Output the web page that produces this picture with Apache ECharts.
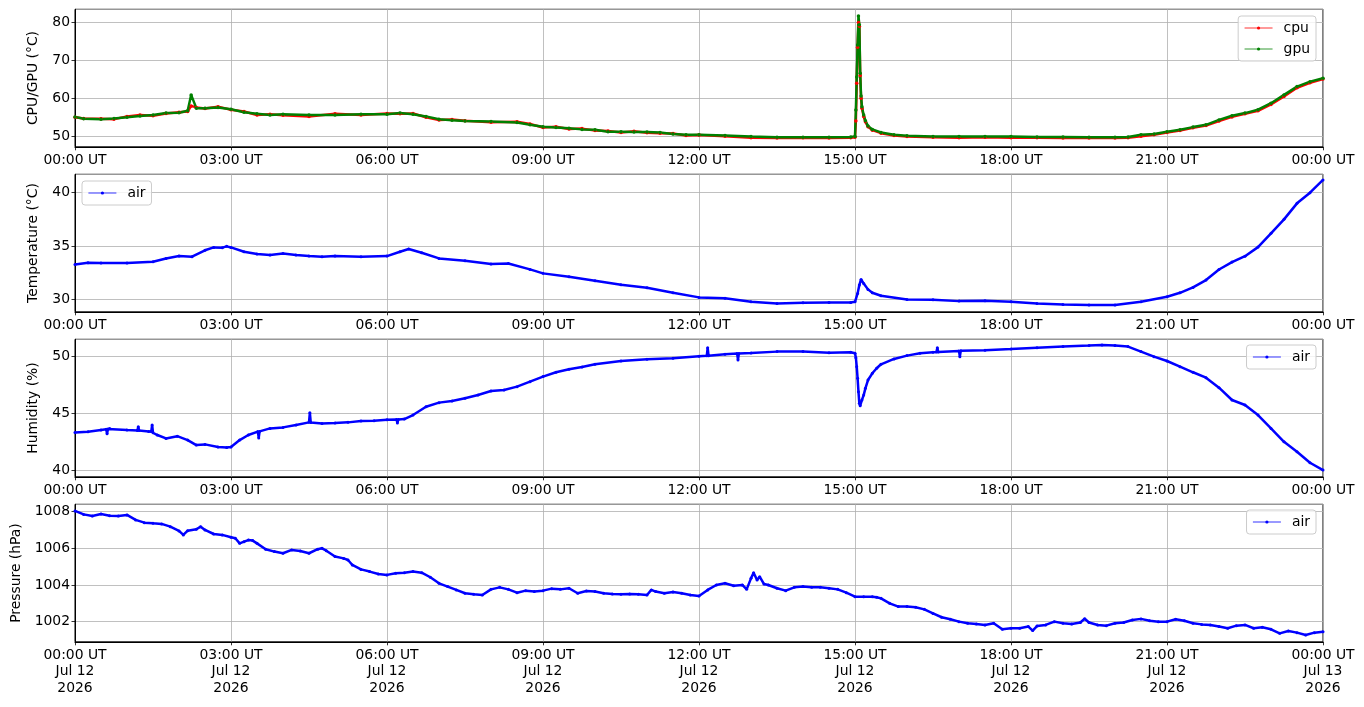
<!DOCTYPE html>
<html>
<head>
<meta charset="utf-8">
<script src="https://cdn.jsdelivr.net/npm/echarts@6/dist/echarts.min.js"></script>
<style>html,body{margin:0;padding:0;background:#fff}#c{width:1364px;height:707px}</style>
</head>
<body>
<div id="c"></div>
<script>
// ---- tick labels ----
const hourLabels = ['00:00 UT','03:00 UT','06:00 UT','09:00 UT','12:00 UT','15:00 UT','18:00 UT','21:00 UT','00:00 UT'];
const dateLabels = ['Jul 12','Jul 12','Jul 12','Jul 12','Jul 12','Jul 12','Jul 12','Jul 12','Jul 13'];
const yearLabels = ['2026','2026','2026','2026','2026','2026','2026','2026','2026'];

// ---- CPU / GPU (minutes of day, °C) ----
const tChip = [0,10,30,45,60,75,90,105,120,130,134,140,150,165,180,195,210,225,240,270,300,330,360,375,390,405,420,435,450,480,510,525,540,555,570,585,600,615,630,645,660,675,690,705,720,750,780,810,840,870,895,900,901,902,903,904,905,906,907,908,910,912,915,920,930,945,960,990,1020,1050,1080,1110,1140,1170,1200,1215,1230,1245,1260,1275,1290,1305,1320,1335,1350,1365,1380,1395,1410,1425,1440];
const cpu = [55.0,54.7,54.6,54.5,55.2, 55.6,55.4,56.0,56.3,56.5, 58.0,57.6,57.3,57.8,57.0, 56.5,55.6,55.8,55.5,55.2, 55.9,55.6,56.0,55.9,56.0, 55.0,54.3,54.4,54.1,53.7, 53.8,53.2,52.3,52.5,51.9, 52.0,51.5,51.4,51.0,51.3, 50.9,50.8,50.7,50.2,50.3, 50.0,49.6,49.5,49.6,49.5, 49.6,49.7,54.0,64.0,73.5, 80.0,79.0,66.0,60.0,57.4, 55.2,53.8,52.5,51.6,50.8, 50.2,49.9,49.7,49.6,49.7, 49.6,49.6,49.5,49.5,49.5, 49.6,50.0,50.4,51.0,51.5, 52.2,52.8,54.0,55.1,55.9, 56.7,58.4,60.5,62.8,64.1, 65.1];
const gpu = [55.1,54.6,54.5,54.7,55.0, 55.3,55.6,56.1,56.2,56.7, 60.9,57.4,57.4,57.6,57.1, 56.3,55.9,55.6,55.8,55.6, 55.6,55.8,55.8,56.1,55.8, 55.2,54.5,54.2,54.0,53.9, 53.6,53.0,52.5,52.3,52.1, 51.8,51.7,51.2,51.2,51.1, 51.1,51.0,50.6,50.4,50.4, 50.2,49.9,49.7,49.7,49.7, 49.8,49.9,56.9,65.6,74.1, 81.7,79.4,66.6,60.6,57.8, 55.6,54.1,52.7,51.8,51.0, 50.4,50.1,49.9,49.9,49.9, 49.9,49.8,49.8,49.7,49.7, 49.8,50.4,50.6,51.2,51.7, 52.4,53.0,54.3,55.4,56.1, 57.0,58.7,60.9,63.1,64.4, 65.3];

// ---- air temperature ----
const tTemp = [0,15,30,60,90,105,120,135,150,160,170,175,180,195,210,225,240,255,270,285,300,330,360,375,385,400,420,450,480,500,525,540,570,600,630,660,690,720,750,780,810,840,870,895,900,903,905,907,910,915,920,930,960,990,1020,1050,1080,1110,1140,1170,1200,1230,1260,1275,1290,1305,1320,1335,1350,1365,1380,1395,1410,1425,1440];
const airTemp = [33.28,33.44,33.40,33.40,33.53,33.84,34.06,34.00,34.60,34.87,34.85,34.97,34.87,34.47,34.25,34.16,34.30,34.16,34.06,34.00,34.06,34.00,34.06,34.47,34.72,34.37,33.84,33.62,33.31,33.37,32.81,32.44,32.12,31.75,31.37,31.10,30.62,30.19,30.10,29.78,29.62,29.69,29.72,29.72,29.78,30.56,31.34,31.87,31.50,30.94,30.62,30.34,30.00,29.97,29.84,29.87,29.78,29.62,29.53,29.47,29.47,29.78,30.25,30.62,31.12,31.81,32.80,33.50,34.05,34.90,36.19,37.50,39.00,40.00,41.19];

// ---- air humidity ----
const tHum = [0,15,30,36,37,38,40,60,72,73,74,85,88,89,90,95,105,118,130,140,150,165,175,180,190,200,211,212,213,225,240,255,270,271,272,285,300,315,330,345,360,371,372,373,380,390,405,420,435,450,465,480,495,510,525,540,555,570,585,600,630,660,690,720,729,730,731,750,764,765,766,780,810,840,870,895,900,901,902,903,904,905,906,908,910,912,915,920,925,930,945,960,975,990,994,995,996,1020,1021,1022,1050,1080,1110,1140,1170,1185,1200,1215,1230,1245,1260,1275,1290,1305,1320,1335,1350,1365,1380,1395,1410,1425,1440];
const humidity = [43.33,43.39,43.54,43.60,43.22,43.62,43.68,43.54,43.50,43.83,43.49,43.42,43.40,43.98,43.30,43.10,42.80,43.00,42.66,42.22,42.28,42.05,42.00,42.05,42.66,43.10,43.40,42.85,43.42,43.68,43.77,43.98,44.21,45.06,44.20,44.12,44.15,44.21,44.33,44.36,44.44,44.46,44.15,44.47,44.50,44.85,45.58,45.94,46.08,46.32,46.61,46.96,47.05,47.34,47.78,48.22,48.60,48.86,49.06,49.30,49.59,49.74,49.82,50.00,50.04,50.76,50.05,50.18,50.24,49.68,50.25,50.29,50.41,50.41,50.32,50.35,50.26,49.88,49.09,48.07,46.90,45.88,45.67,46.17,46.60,47.19,47.92,48.51,48.95,49.30,49.77,50.06,50.26,50.35,50.37,50.76,50.38,50.47,49.97,50.48,50.53,50.64,50.76,50.85,50.94,50.99,50.94,50.85,50.41,49.97,49.59,49.09,48.60,48.13,47.25,46.17,45.73,44.85,43.68,42.51,41.64,40.67,40.03];

// ---- air pressure ----
const tPres = [0,10,20,30,40,50,60,70,80,90,
100,110,120,125,130,140,145,150,160,170,
180,185,190,195,200,205,210,220,230,240,
250,260,270,280,285,290,300,310,315,320,
330,340,350,360,370,380,390,400,410,420,
430,440,450,460,470,480,490,500,510,520,
530,540,550,560,570,580,590,600,610,620,
630,640,650,660,665,670,680,690,700,710,
720,730,740,750,760,770,775,780,783,787,
790,795,800,810,820,830,840,850,860,870,
880,890,900,910,920,925,930,940,950,960,
970,980,990,1000,1010,1020,1030,1040,1050,1060,
1070,1080,1090,1100,1105,1110,1120,1130,1140,1150,
1160,1165,1170,1180,1190,1200,1210,1220,1230,1240,
1250,1260,1270,1280,1290,1300,1310,1320,1330,1340,
1350,1360,1370,1380,1390,1400,1410,1420,1430,1440];
const pressure = [1008.04,1007.85,1007.76,1007.87,1007.78,1007.76,1007.82,1007.55,1007.40,1007.36,
1007.33,1007.18,1006.95,1006.73,1006.96,1007.04,1007.18,1007.00,1006.78,1006.73,
1006.60,1006.55,1006.27,1006.36,1006.45,1006.42,1006.27,1005.95,1005.82,1005.73,
1005.91,1005.85,1005.73,1005.95,1006.00,1005.87,1005.55,1005.45,1005.36,1005.09,
1004.85,1004.73,1004.60,1004.55,1004.64,1004.67,1004.73,1004.67,1004.42,1004.09,
1003.91,1003.73,1003.55,1003.49,1003.45,1003.76,1003.87,1003.76,1003.58,1003.69,
1003.64,1003.69,1003.80,1003.76,1003.82,1003.55,1003.67,1003.64,1003.55,1003.51,
1003.49,1003.51,1003.49,1003.45,1003.73,1003.64,1003.55,1003.62,1003.55,1003.45,
1003.40,1003.73,1004.00,1004.09,1003.96,1004.00,1003.76,1004.36,1004.67,1004.27,
1004.45,1004.05,1004.00,1003.82,1003.69,1003.87,1003.91,1003.87,1003.87,1003.82,
1003.76,1003.58,1003.36,1003.36,1003.36,1003.33,1003.27,1003.00,1002.82,1002.82,
1002.78,1002.67,1002.45,1002.24,1002.13,1002.00,1001.91,1001.87,1001.82,1001.91,
1001.58,1001.64,1001.64,1001.73,1001.51,1001.76,1001.82,1002.00,1001.91,1001.87,
1001.95,1002.16,1001.95,1001.82,1001.78,1001.91,1001.95,1002.09,1002.15,1002.05,
1002.00,1002.00,1002.13,1002.05,1001.91,1001.85,1001.82,1001.73,1001.64,1001.78,
1001.82,1001.64,1001.69,1001.58,1001.36,1001.49,1001.40,1001.27,1001.40,1001.45];

// ---- build chart ----
const FONT = 'DejaVu Sans';
const FS = 13.9;
const zip = (t, v) => t.map((x, i) => [x, v[i]]);

const tops = [9.3, 174.3, 339.3, 504.3];
const H = 137.5;
const grids = tops.map(t => ({left: 75, right: 41, top: t, height: H, show: true,
  borderColor: '#000', borderWidth: 1, backgroundColor: 'rgba(0,0,0,0)', outerBoundsMode: 'none', containLabel: false}));

function xAxisFor(i, last) {
  return {
    type: 'value', gridIndex: i, min: 0, max: 1440, interval: 180,
    axisLine: {show: true, onZero: false, lineStyle: {color: '#000', width: 1}},
    axisTick: {show: true, inside: false, length: 3.5, lineStyle: {color: '#000', width: 0.8}},
    axisLabel: {color: '#000', fontFamily: FONT, fontSize: FS, margin: 5, lineHeight: 16.5,
      showMinLabel: true, showMaxLabel: true, hideOverlap: false,
      formatter: v => { const k = Math.round(v / 180);
        return last ? hourLabels[k] + '\n' + dateLabels[k] + '\n' + yearLabels[k] : hourLabels[k]; }},
    splitLine: {show: true, lineStyle: {color: '#b0b0b0', width: 0.8}}
  };
}
function yAxisFor(i, name, min, max, step, gap) {
  return {
    type: 'value', gridIndex: i, min: min, max: max, minInterval: step, maxInterval: step,
    splitNumber: Math.round((max - min) / step),
    name: name, nameLocation: 'middle', nameGap: gap, nameMoveOverlap: false,
    nameTextStyle: {color: '#000', fontFamily: FONT, fontSize: FS},
    axisLine: {show: true, onZero: false, lineStyle: {color: '#000', width: 1}},
    axisTick: {show: true, inside: false, length: 3.5, lineStyle: {color: '#000', width: 0.8}},
    axisLabel: {color: '#000', fontFamily: FONT, fontSize: FS, margin: 5,
      showMinLabel: false, showMaxLabel: false, formatter: v => String(v)},
    splitLine: {show: true, lineStyle: {color: '#b0b0b0', width: 0.8}}
  };
}
function lineSeries(name, i, data, color, w, s) {
  return {
    name: name, type: 'line', xAxisIndex: i, yAxisIndex: i, data: data,
    color: color, symbol: 'circle', symbolSize: s, showSymbol: true, showAllSymbol: true,
    lineStyle: {color: color, width: w}, itemStyle: {color: color},
    emphasis: {disabled: true}, animation: false
  };
}
function legendFor(names, pos) {
  return Object.assign({
    data: names, orient: 'vertical', padding: [5, 6, 5, 6], itemGap: 7,
    itemWidth: 28, itemHeight: 4, borderColor: '#cccccc', borderWidth: 1, borderRadius: 3,
    backgroundColor: 'rgba(255,255,255,0.8)', selectedMode: false,
    textStyle: {color: '#000', fontFamily: FONT, fontSize: FS, padding: [0, 0, 0, 6]},
    lineStyle: {width: 0.8}
  }, pos);
}

const option = {
  animation: false,
  backgroundColor: '#fff',
  textStyle: {fontFamily: FONT},
  grid: grids,
  xAxis: [xAxisFor(0, false), xAxisFor(1, false), xAxisFor(2, false), xAxisFor(3, true)],
  yAxis: [
    yAxisFor(0, 'CPU/GPU (\u00b0C)', 47.2, 83.5, 10, 35),
    yAxisFor(1, 'Temperature (\u00b0C)', 28.84, 41.72, 5, 35),
    yAxisFor(2, 'Humidity (%)', 39.44, 51.49, 5, 35),
    yAxisFor(3, 'Pressure (hPa)', 1000.9, 1008.4, 2, 52)
  ],
  legend: [
    legendFor(['cpu', 'gpu'], {right: 48, top: 16}),
    legendFor(['air'], {left: 82, top: 181}),
    legendFor(['air'], {right: 48, top: 345}),
    legendFor(['air'], {right: 48, top: 510})
  ],
  series: [
    lineSeries('cpu', 0, zip(tChip, cpu), '#ff0000', 2.5, 3.5),
    lineSeries('gpu', 0, zip(tChip, gpu), '#008000', 2.5, 3.5),
    lineSeries('air', 1, zip(tTemp, airTemp), '#0000ff', 2.5, 3),
    lineSeries('air', 2, zip(tHum, humidity), '#0000ff', 2.5, 3),
    lineSeries('air', 3, zip(tPres, pressure), '#0000ff', 2.5, 3)
  ]
};
const chart = echarts.init(document.getElementById('c'), null, {renderer: 'canvas'});
chart.setOption(option);
</script>
</body>
</html>
